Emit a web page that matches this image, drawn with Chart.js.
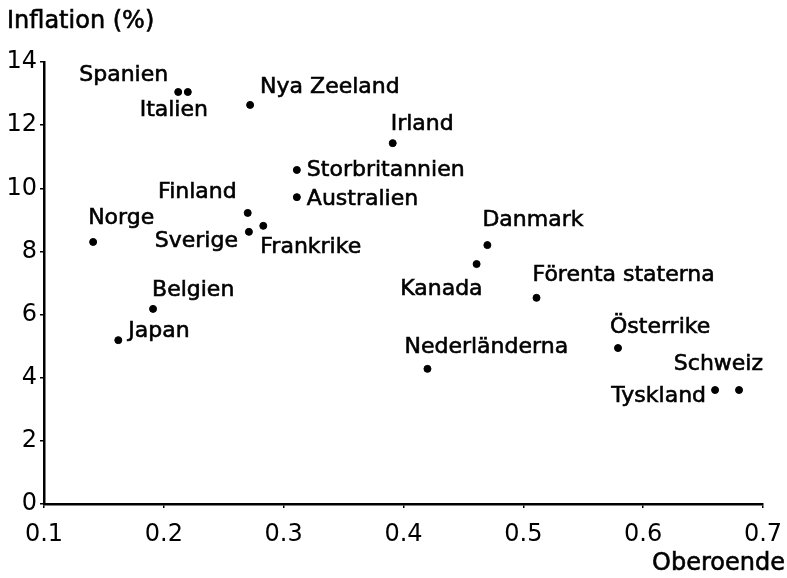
<!DOCTYPE html>
<html lang="sv">
<head>
    <meta charset="UTF-8">
    <title>Inflation och centralbankens oberoende</title>
    <style>
        body { margin: 0; background: #fff; }
        canvas { display: block; }
    </style>
</head>
<body>
    <canvas id="chart" width="787" height="578"></canvas>

    <script src="https://cdn.jsdelivr.net/npm/chart.js"></script>
    <script>
        // data
        const countries = ['Spanien', 'Italien', 'Nya Zeeland', 'Irland', 'Storbritannien', 'Australien',
            'Finland', 'Norge', 'Sverige', 'Frankrike', 'Danmark', 'Kanada', 'Förenta staterna',
            'Belgien', 'Japan', 'Nederländerna', 'Österrike', 'Schweiz', 'Tyskland'];
        const independence = [0.212, 0.220, 0.272, 0.391, 0.311, 0.311,
            0.270, 0.141, 0.271, 0.283, 0.470, 0.461, 0.511,
            0.191, 0.162, 0.420, 0.579, 0.680, 0.660];
        const inflation = [13.05, 13.05, 12.64, 11.43, 10.58, 9.72,
            9.22, 8.30, 8.62, 8.81, 8.20, 7.60, 6.53,
            6.18, 5.19, 4.28, 4.94, 3.61, 3.61];
        const xTicks = [0.1, 0.2, 0.3, 0.4, 0.5, 0.6, 0.7];
        const yTicks = [0, 2, 4, 6, 8, 10, 12, 14];

        // where each name sits next to its dot: [dx, dy, align]
        const labelPlacement = [
            [-10, -17, 'right'], [-14, 18, 'center'], [10, -18, 'left'], [-2, -19, 'left'],
            [10, 0, 'left'], [10, 2, 'left'], [-11, -21, 'right'], [-5, -24, 'left'],
            [-11, 9, 'right'], [-3, 21, 'left'], [-5, -25, 'left'], [6, 25, 'right'],
            [-4, -23, 'left'], [-1, -19, 'left'], [10, -9, 'left'], [-23, -22, 'left'],
            [-8, -21, 'left'], [24, -26, 'right'], [-9, 6, 'right']
        ];

        const FONT = '"DejaVu Sans", sans-serif';

        const points = independence.map((x, i) => ({ x: x, y: inflation[i] }));

        // slightly heavier text, like the plotter lettering
        function heavyText(ctx, txt, x, y) {
            ctx.fillText(txt, x, y);
            ctx.strokeText(txt, x, y);
        }

        const countryLabels = {
            id: 'countryLabels',
            afterDatasetsDraw(chart) {
                const ctx = chart.ctx;
                const meta = chart.getDatasetMeta(0);
                ctx.save();
                ctx.fillStyle = '#000';
                ctx.strokeStyle = '#000';
                ctx.lineWidth = 0.6;
                ctx.font = '22px ' + FONT;
                ctx.textBaseline = 'middle';
                meta.data.forEach((pt, i) => {
                    const p = labelPlacement[i];
                    ctx.textAlign = p[2];
                    heavyText(ctx, countries[i], pt.x + p[0], pt.y + p[1]);
                });
                // axis titles
                ctx.font = '24px ' + FONT;
                ctx.textAlign = 'left';
                heavyText(ctx, 'Inflation (%)', 7, 22);
                ctx.textAlign = 'right';
                heavyText(ctx, 'Oberoende', 785, 564);
                ctx.restore();
            }
        };

        new Chart(document.getElementById('chart').getContext('2d'), {
            type: 'scatter',
            data: {
                datasets: [{
                    data: points,
                    backgroundColor: '#000',
                    borderColor: '#000',
                    pointRadius: 3.5,
                    pointHoverRadius: 3.5
                }]
            },
            options: {
                responsive: false,
                animation: false,
                layout: { padding: { top: 62, right: 24, bottom: 0, left: 0 } },
                plugins: {
                    legend: { display: false },
                    tooltip: { enabled: false }
                },
                scales: {
                    x: {
                        type: 'linear',
                        min: 0.1,
                        max: 0.7,
                        afterBuildTicks: scale => { scale.ticks = xTicks.map(v => ({ value: v })); },
                        afterFit: scale => {
                            scale.height = 74;
                            scale.paddingLeft = 0;
                            scale.paddingRight = 0;
                        },
                        border: { display: true, color: '#000', width: 2.5 },
                        grid: { drawOnChartArea: false, color: '#000', tickLength: 4, lineWidth: 1.5 },
                        ticks: {
                            color: '#000',
                            font: { family: FONT, size: 24 },
                            padding: 12,
                            maxRotation: 0,
                            callback: v => v.toFixed(1)
                        }
                    },
                    y: {
                        min: 0,
                        max: 14,
                        afterBuildTicks: scale => { scale.ticks = yTicks.map(v => ({ value: v })); },
                        afterFit: scale => {
                            scale.width = 44;
                            scale.paddingTop = 0;
                            scale.paddingBottom = 0;
                        },
                        border: { display: true, color: '#000', width: 2.5 },
                        grid: { drawOnChartArea: false, color: '#000', tickLength: 4, lineWidth: 1.5 },
                        ticks: {
                            color: '#000',
                            font: { family: FONT, size: 24 },
                            padding: 3
                        }
                    }
                }
            },
            plugins: [countryLabels]
        });
    </script>
</body>
</html>
